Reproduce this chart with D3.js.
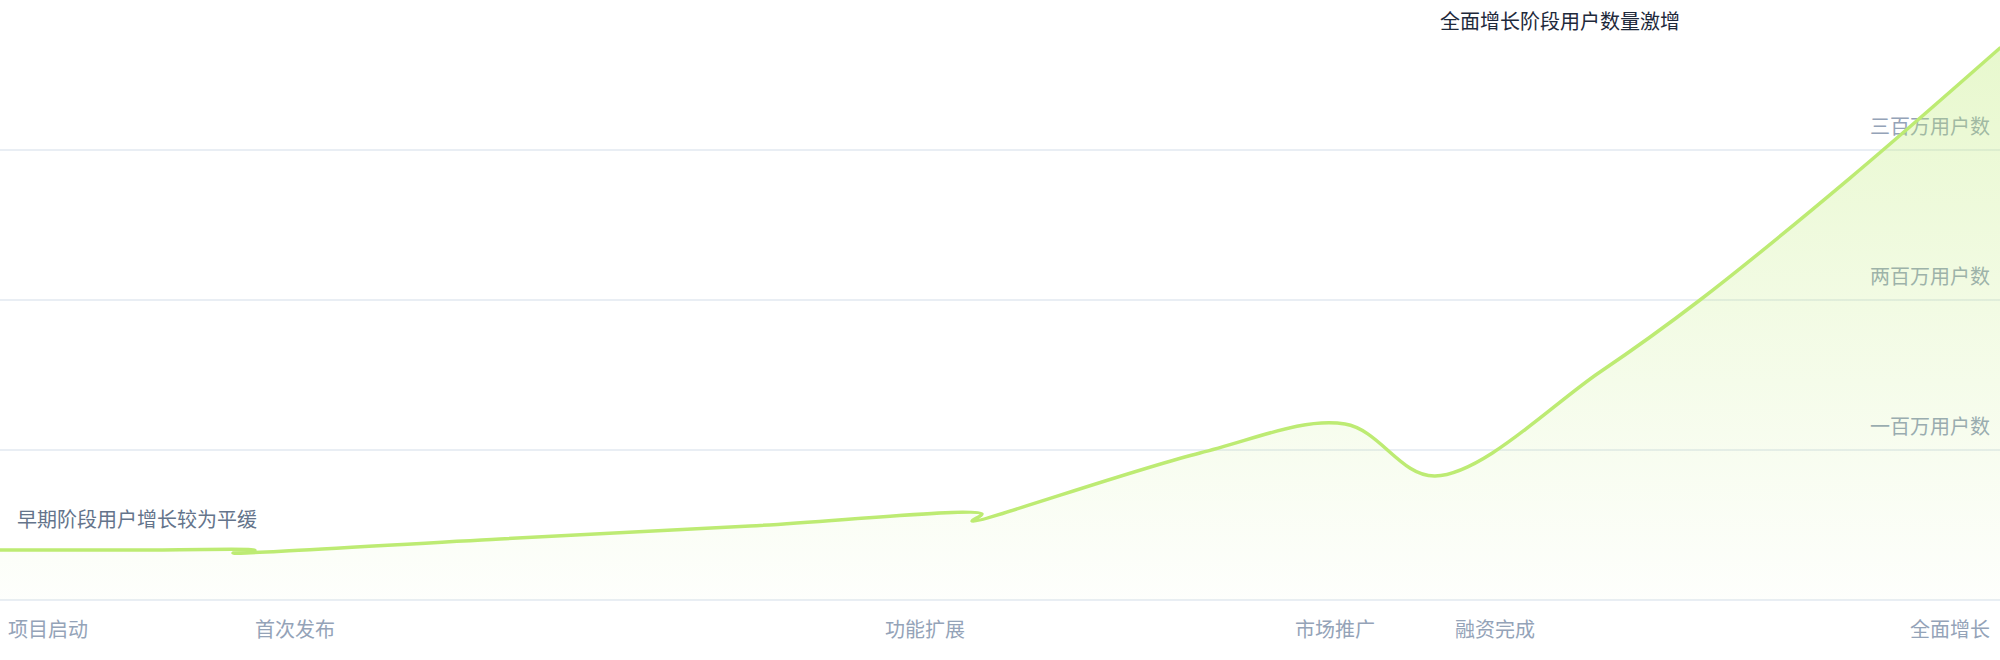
<!DOCTYPE html>
<meta charset="utf-8">
<head>
	<title>用户增长</title>
	<style>
		html, body { margin: 0; padding: 0; background: #fff; }
		svg { display: block; }
		text { font-family: "Noto Sans CJK SC", "Noto Sans", sans-serif; font-size: 20px; }
	</style>
</head>
<body>
	<div class="container"></div>
</body>

<script src="https://cdnjs.cloudflare.com/ajax/libs/d3/7.8.5/d3.min.js"></script>

<script type="text/javascript">

	var width = 2000;
	var height = 660;
	var plotBottom = 600;

	// x: days since start, y: users (in 万), in drawing order
	var dayValues  = [0, 25.6, 51, 46.6, 100, 150, 196.4, 194.4, 240, 269, 287, 320, 340, 370, 400];
	var userValues = [33.3, 33.3, 33.3, 31.3, 40.7, 49.3, 57.3, 52.7, 98, 117.3, 82.7, 152, 200, 281.3, 368];

	// milestone ticks along the bottom
	var milestoneDays   = [0, 59, 185, 267, 299, 400];
	var milestoneLabels = ["项目启动", "首次发布", "功能扩展", "市场推广", "融资完成", "全面增长"];

	// horizontal grid
	var gridValues = [100, 200, 300];
	var gridLabels = ["一百万用户数", "两百万用户数", "三百万用户数"];

	var titleText = "全面增长阶段用户数量激增";
	var noteText  = "早期阶段用户增长较为平缓";

	var points = dayValues.map(function (d, i) { return { day: d, users: userValues[i] }; });

	var x = d3.scaleLinear().domain([0, 400]).range([0, width]);
	var y = d3.scaleLinear().domain([0, 400]).range([plotBottom, 0]);

	var svg = d3.select(".container").append("svg")
		.attr("width", width)
		.attr("height", height);

	// gradient under the line
	var grad = svg.append("defs").append("linearGradient")
		.attr("id", "areaFill")
		.attr("gradientUnits", "userSpaceOnUse")
		.attr("x1", 0).attr("y1", 0)
		.attr("x2", 0).attr("y2", plotBottom);
	grad.append("stop").attr("offset", "0%").attr("stop-color", "#bdeb73").attr("stop-opacity", 0.38);
	grad.append("stop").attr("offset", "100%").attr("stop-color", "#bdeb73").attr("stop-opacity", 0.02);

	// grid lines + baseline
	svg.selectAll("line.grid")
		.data(gridValues.concat([0]))
		.enter()
		.append("line")
		.attr("class", "grid")
		.attr("x1", 0).attr("x2", width)
		.attr("y1", function (d) { return y(d); })
		.attr("y2", function (d) { return y(d); })
		.attr("stroke", "#e2e8f0")
		.attr("stroke-width", 1.5);

	// grid labels (drawn before the area so the fill tints them)
	svg.selectAll("text.gridLabel")
		.data(gridValues)
		.enter()
		.append("text")
		.attr("class", "gridLabel")
		.attr("x", width - 10)
		.attr("y", function (d) { return y(d) - 16; })
		.attr("text-anchor", "end")
		.attr("fill", "#94a3b8")
		.text(function (d, i) { return gridLabels[i]; });

	var curve = d3.curveCatmullRom.alpha(0.5);

	var area = d3.area()
		.x(function (d) { return x(d.day); })
		.y0(plotBottom)
		.y1(function (d) { return y(d.users); })
		.curve(curve);

	var line = d3.line()
		.x(function (d) { return x(d.day); })
		.y(function (d) { return y(d.users); })
		.curve(curve);

	svg.append("path")
		.datum(points)
		.attr("d", area)
		.attr("fill", "url(#areaFill)");

	svg.append("path")
		.datum(points)
		.attr("d", line)
		.attr("fill", "none")
		.attr("stroke", "#bdeb73")
		.attr("stroke-width", 3.5)
		.attr("stroke-linecap", "round")
		.attr("stroke-linejoin", "round");

	// milestone labels
	var last = milestoneDays.length - 1;
	svg.selectAll("text.tick")
		.data(milestoneDays)
		.enter()
		.append("text")
		.attr("class", "tick")
		.attr("x", function (d, i) { return i === 0 ? x(d) + 8 : (i === last ? x(d) - 10 : x(d)); })
		.attr("y", 637)
		.attr("text-anchor", function (d, i) { return i === 0 ? "start" : (i === last ? "end" : "middle"); })
		.attr("fill", "#94a3b8")
		.text(function (d, i) { return milestoneLabels[i]; });

	// annotations
	svg.append("text")
		.attr("x", 17)
		.attr("y", 527)
		.attr("fill", "#64748b")
		.text(noteText);

	svg.append("text")
		.attr("x", 1560)
		.attr("y", 29)
		.attr("text-anchor", "middle")
		.attr("fill", "#1e293b")
		.text(titleText);

</script>
</html>
